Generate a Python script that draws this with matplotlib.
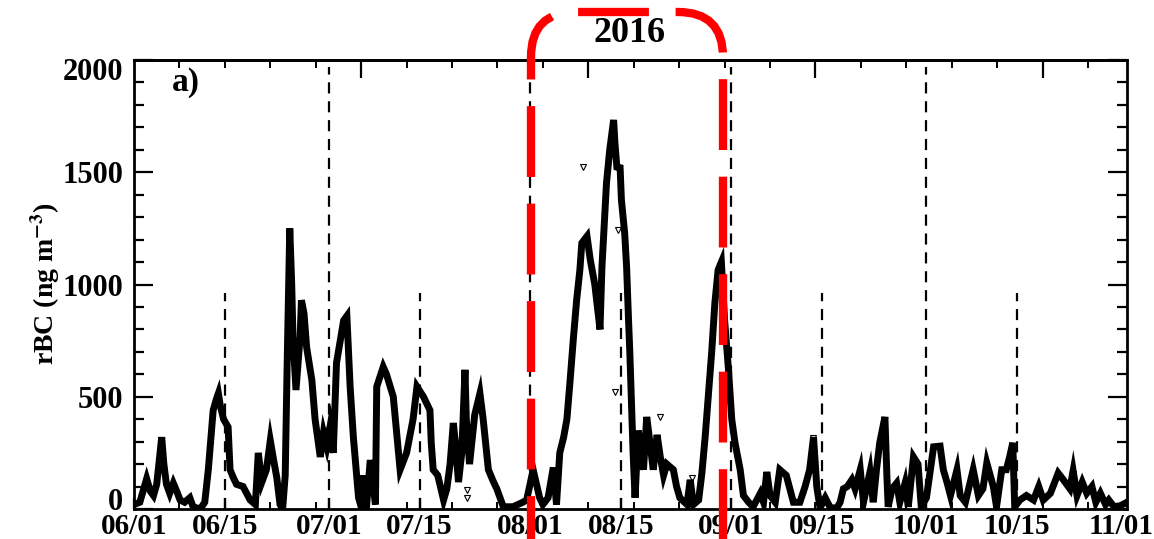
import numpy as np
import matplotlib
matplotlib.use("Agg")
import matplotlib.pyplot as plt
from matplotlib.patches import FancyBboxPatch
from matplotlib.transforms import IdentityTransform, ScaledTranslation

plt.rcParams['font.family'] = ['Liberation Serif', 'DejaVu Serif']
plt.rcParams['font.weight'] = 'bold'
plt.rcParams['mathtext.fontset'] = 'stix'

# days since 06/01/2016 and rBC (ng m-3)
days = [0, 0.9, 1.95, 2.5, 3.0, 3.5, 4.27, 4.6, 5.0, 5.5, 6.06, 6.57, 7.1, 7.8, 8.6,
        9.1, 10.2, 10.9, 11.45, 12.2, 12.7, 13.0, 13.3, 13.8, 14.5, 14.8, 15.3, 15.8,
        16.8, 17.9, 18.7, 19.15, 19.7, 20.4, 21.0, 21.5, 22.0, 22.5, 22.9, 23.3, 23.6,
        24.0, 24.3, 24.5, 24.96, 25.6, 25.8, 26.2, 26.6, 27.4, 27.9, 28.7, 29.2, 29.7,
        30.2, 30.7, 31.2, 32.3, 32.8, 33.3, 33.8, 34.6, 35.1, 35.3, 35.8, 36.4, 37.2,
        37.4, 38.4, 38.9, 39.95, 41.0, 42.0, 43.0, 43.6, 44.6, 45.1, 45.6, 45.8,
        46.1, 46.8, 47.7, 48.2, 48.7, 49.2, 49.5, 50.0, 50.5, 51.0, 51.2, 51.7, 52.5,
        53.3, 53.8, 54.6, 55.4, 55.9, 56.9, 58.4, 59.9, 60.5, 61.5, 62.5, 63.0, 63.8,
        64.6, 65.1, 65.6, 66.2, 66.7, 67.2, 67.7, 68.2, 68.7, 69.0, 69.8, 70.3, 71.0,
        71.8, 72.1, 72.8, 73.3, 73.9, 74.1, 74.4, 74.9, 75.1, 75.6, 75.9, 76.2, 76.4,
        76.9, 77.2, 77.7, 78.5, 79.0, 79.5, 80.0, 80.6, 81.1, 81.6, 82.1, 83.1, 83.6,
        84.1, 85.2, 85.7, 86.2, 87.0, 87.5, 88.0, 88.5, 89.0, 89.5, 90.0, 90.5, 91.0,
        91.6, 92.1, 92.6, 93.4, 93.9, 94.7, 95.4, 96.5, 97.0, 97.5, 98.0, 98.8, 99.5,
        100.5, 101.6, 102.6, 103.4, 104.1, 104.7, 105.2, 105.7, 106.5, 107.3, 108.3,
        108.8, 109.3, 109.9, 110.6, 111.1, 111.9, 112.4, 113.4, 113.9, 114.4, 114.9,
        115.7, 116.0, 116.2, 116.8, 117.5, 118.0, 118.8, 119.3, 120.1, 120.8, 121.3,
        122.1, 123.2, 124.2, 124.7, 125.3, 125.8, 126.8, 127.3, 128.1, 129.3, 130.1,
        130.8, 131.4, 132.4, 132.9, 133.7, 134.4, 134.9, 135.4, 135.7, 136.5, 137.5,
        138.6, 139.4, 140.1, 141.2, 142.4, 143.2, 144.2, 144.7, 145.3, 146.1, 146.8,
        147.6, 148.2, 148.9, 149.7, 150.2, 151.0, 152.0, 153.0]
rbc = [20, 30, 135, 80, 60, 110, 320, 200, 110, 70, 115, 80, 40, 30, 50,
       10, 0, 30, 175, 440, 490, 515, 460, 400, 365, 175, 140, 110,
       100, 40, 20, 250, 120, 175, 305, 220, 140, 20, 0, 150, 650,
       1250, 1000, 760, 530, 770, 930, 870, 720, 575, 400, 232, 340, 280,
       365, 250, 650, 840, 860, 545, 320, 50, 0, 150, 0, 218, 20,
       545, 633, 600, 500, 175, 250, 400, 545, 500, 470, 440, 295,
       175, 150, 40, 90, 200, 383, 300, 120, 250, 620, 400, 200, 420,
       515, 400, 175, 120, 90, 10, 10, 30, 40, 175, 50, 20, 50,
       185, 20, 250, 320, 400, 575, 760, 930, 1065, 1185, 1215, 1110, 1000,
       800, 1078, 1452, 1600, 1733, 1630, 1523, 1520, 1376, 1230, 1078, 840, 695,
       250, 50, 350, 175, 410, 295, 175, 330, 230, 150, 200, 175, 100,
       50, 20, 130, 20, 40, 160, 320, 505, 695, 918, 1065, 1100, 840,
       620, 400, 295, 175, 60, 30, 10, 70, 30, 165, 60, 30, 175,
       150, 30, 30, 100, 175, 320, 100, 5, 50, 5, 5,
       30, 90, 100, 130, 90, 175, 30, 165, 30, 175, 295,
       410, 150, 10, 90, 115, 30, 115, 10, 232, 200, 10,
       50, 277, 280, 175, 115, 60, 175, 60, 30, 175, 60,
       90, 205, 100, 10, 175, 175, 230, 295, 10, 40, 60,
       40, 100, 40, 70, 160, 130, 90, 170, 60, 120, 70,
       100, 30, 70, 20, 40, 10, 15, 30]

# isolated points drawn as open triangles
out_days = [51.3, 51.3, 74.1, 81.0, 69.2, 74.6, 104.6, 86.0]
out_rbc = [85, 50, 522, 411, 1523, 1243, 315, 140]

tick_days = [0, 14, 30, 44, 61, 75, 92, 106, 122, 136, 153]
tick_labels = ['06/01', '06/15', '07/01', '07/15', '08/01', '08/15', '09/01',
               '09/15', '10/01', '10/15', '11/01']
month_days = [30, 61, 92, 122]
mid_days = [14, 44, 75, 106, 136]

fig = plt.figure(figsize=(11.54, 5.39), dpi=100)
ax = fig.add_axes([134 / 1154, 30 / 539, 993 / 1154, 449 / 539])

ax.plot(days, rbc, color='k', lw=5, solid_joinstyle='miter')
ax.plot(out_days, out_rbc, 'v', mfc='none', mec='k', ms=4, mew=0.8)

for d in month_days:
    ax.plot([d, d], [0, 1970], color='k', lw=1.6, ls=(0, (5, 3.5)), zorder=1)
for d in mid_days:
    ax.plot([d, d], [0, 960], color='k', lw=1.6, ls=(0, (5, 3.5)), zorder=1)

ax.set_xlim(0, 153)
ax.set_ylim(0, 2000)
ax.set_xticks(tick_days)
ax.set_xticklabels(tick_labels)
ax.set_xticks(np.arange(7, 153, 7), minor=True)
ax.set_yticks([0, 500, 1000, 1500, 2000])
ax.set_yticks(np.arange(0, 2001, 100), minor=True)
ax.tick_params(axis='y', which='major', direction='in', labelsize=22, width=1.6,
               length=14, right=True, pad=8)
ax.tick_params(axis='y', which='minor', direction='in', length=7, width=1.6, right=True)
ax.tick_params(axis='x', which='major', direction='in', labelsize=21, width=1.6,
               length=8, pad=3)
ax.tick_params(axis='x', which='minor', direction='in', length=5, width=1.4)
for lab in ax.get_xticklabels() + ax.get_yticklabels():
    lab.set_fontweight('bold')

# end labels are nudged inside the axis range, as in the original
def nudge(lab, dx, dy):
    lab.set_transform(lab.get_transform() + ScaledTranslation(dx / 100, dy / 100, fig.dpi_scale_trans))

nudge(ax.get_xticklabels()[-1], -6, 0)
nudge(ax.get_yticklabels()[0], 0, 10)
nudge(ax.get_yticklabels()[-1], 0, -9)
for s in ax.spines.values():
    s.set_linewidth(2)

# top axis with its own ticks
top = ax.secondary_xaxis('top')
top.set_xticks([35, 70, 105, 140])
top.set_xticks(np.arange(7, 153, 7), minor=True)
top.tick_params(which='major', direction='in', length=13, width=1.6, labeltop=False)
top.tick_params(which='minor', direction='in', length=6, width=1.4)
top.spines['top'].set_linewidth(2)

fig.text(45 / 1154, 1 - 284 / 539, r'rBC (ng m$^{\mathbf{-3}}$)', rotation=90,
         ha='center', va='center', fontsize=20, fontweight='bold')
fig.text(172 / 1154, 1 - 83 / 539, 'a)', ha='left', va='center', fontsize=24,
         fontweight='bold')
fig.text(630 / 1154, 1 - 34 / 539, '2016', ha='center', va='center', fontsize=26,
         fontweight='bold')

box = FancyBboxPatch((531, -150), 192, 539 - 12 + 150,
                     boxstyle='round,pad=0,rounding_size=45',
                     fill=False, ec='#ff0000', lw=6, ls=(0, (8.5, 3.2)),
                     transform=IdentityTransform(), clip_on=False)
fig.add_artist(box)

fig.savefig('out.png', dpi=100)
